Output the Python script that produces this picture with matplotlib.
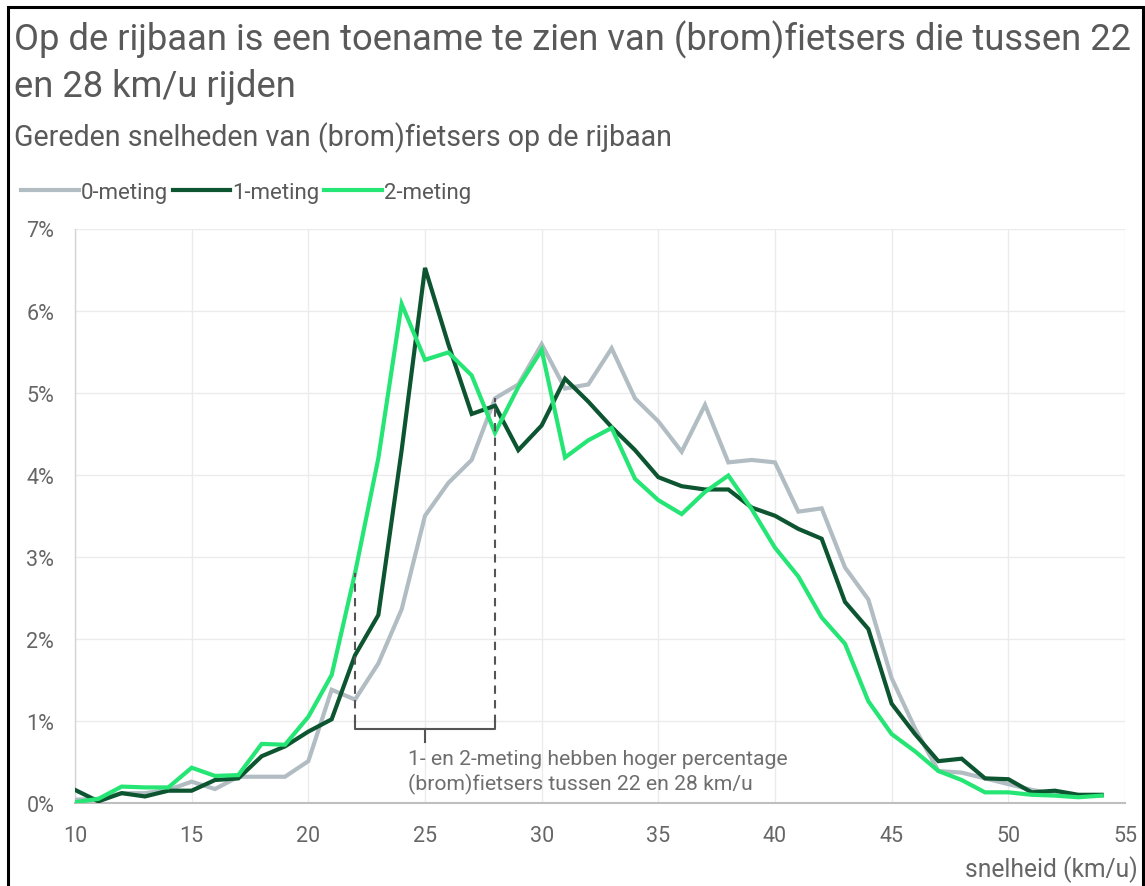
import matplotlib
matplotlib.use('Agg')
import matplotlib.pyplot as plt
from matplotlib.ticker import FuncFormatter, FixedLocator
from matplotlib.patches import Rectangle

# ---------------- data ----------------
speeds = list(range(10, 55))
meting0 = [0.04, 0.05, 0.12, 0.12, 0.16, 0.26, 0.17, 0.32, 0.32, 0.32, 0.51,
           1.38, 1.26, 1.70, 2.36, 3.50, 3.90, 4.18, 4.93, 5.10, 5.59,
           5.05, 5.10, 5.54, 4.93, 4.65, 4.28, 4.85, 4.15, 4.18, 4.15,
           3.55, 3.59, 2.87, 2.48, 1.52, 0.91, 0.39, 0.37, 0.30, 0.23,
           0.16, 0.11, 0.09, 0.09]
meting1 = [0.16, 0.02, 0.12, 0.08, 0.15, 0.15, 0.28, 0.30, 0.57, 0.69, 0.87,
           1.02, 1.80, 2.29, 4.30, 6.52, 5.59, 4.74, 4.84, 4.30, 4.60,
           5.17, 4.89, 4.58, 4.30, 3.97, 3.86, 3.82, 3.82, 3.60, 3.50,
           3.34, 3.22, 2.45, 2.12, 1.21, 0.84, 0.51, 0.54, 0.30, 0.29,
           0.13, 0.15, 0.10, 0.10]
meting2 = [0.01, 0.05, 0.20, 0.19, 0.19, 0.43, 0.33, 0.34, 0.72, 0.71, 1.05,
           1.56, 2.80, 4.20, 6.08, 5.40, 5.49, 5.21, 4.51, 5.07, 5.52,
           4.21, 4.42, 4.57, 3.95, 3.69, 3.52, 3.79, 3.99, 3.58, 3.11,
           2.76, 2.26, 1.94, 1.24, 0.84, 0.63, 0.39, 0.28, 0.13, 0.13,
           0.10, 0.09, 0.07, 0.09]
series_labels = ['0-meting', '1-meting', '2-meting']
x_ticks = [10, 15, 20, 25, 30, 35, 40, 45, 50, 55]
y_ticks = [0, 1, 2, 3, 4, 5, 6, 7]
range_lo, range_hi = 22, 28
bracket_level = 0.90
title_line1 = 'Op de rijbaan is een toename te zien van (brom)fietsers die tussen 22'
title_line2 = 'en 28 km/u rijden'
subtitle = 'Gereden snelheden van (brom)fietsers op de rijbaan'
note_line1 = '1- en 2-meting hebben hoger percentage'
note_line2 = '(brom)fietsers tussen 22 en 28 km/u'
x_label = 'snelheid (km/u)'

# ---------------- style ----------------
W, H = 1145, 887
plt.rcParams['font.family'] = ['Roboto', 'DejaVu Sans']
TXT = '#595959'
TICK = '#666666'
colors = ['#b2bdc3', '#0c5530', '#25e574']

fig = plt.figure(figsize=(W / 100, H / 100), dpi=100)
fig.patch.set_facecolor('white')
renderer = fig.canvas.get_renderer()


def fy(y):
    return 1 - y / H


def fit(t, target):
    w = t.get_window_extent(renderer).width
    t.set_fontsize(t.get_fontsize() * target / w)


# border
fig.add_artist(Rectangle((8 / W, -0.05), (1143 - 8) / W, fy(8) + 0.05,
                         transform=fig.transFigure, fill=False,
                         edgecolor='black', linewidth=2.2))

# titles
t1 = fig.text(14 / W, fy(50), title_line1, fontsize=22, color=TXT, va='baseline')
fit(t1, 1116)
t2 = fig.text(14 / W, fy(97), title_line2, fontsize=t1.get_fontsize(), color=TXT, va='baseline')
t3 = fig.text(14 / W, fy(146), subtitle, fontsize=17, color=TXT, va='baseline')
fit(t3, 661)

# axes
ax = fig.add_axes([75 / W, fy(804), 1050 / W, (804 - 229.5) / H])
ax.set_xlim(10, 55)
ax.set_ylim(0, 7)
ax.xaxis.set_major_locator(FixedLocator(x_ticks))
ax.yaxis.set_major_locator(FixedLocator(y_ticks))
ax.yaxis.set_major_formatter(FuncFormatter(lambda v, p: f'{v:.0f}%'))
ax.grid(True, color='#ebebeb', linewidth=1.0)
ax.set_axisbelow(True)
for s in ['top', 'right']:
    ax.spines[s].set_visible(False)
ax.spines['left'].set_color('#d4d4d4')
ax.spines['left'].set_linewidth(1.0)
ax.spines['bottom'].set_color('#bfbfbf')
ax.spines['bottom'].set_linewidth(1.5)
ax.tick_params(length=0, labelsize=15.5, labelcolor=TICK)
ax.tick_params(axis='y', pad=15)
ax.tick_params(axis='x', pad=16)

lines = []
for vals, c, lab in zip([meting0, meting1, meting2], colors, series_labels):
    ln, = ax.plot(speeds, vals, color=c, linewidth=3.0, label=lab,
                  solid_joinstyle='miter', zorder=3)
    lines.append(ln)

# annotation: dashed verticals + bracket
all_series = [meting0, meting1, meting2]
top_lo = max(s[speeds.index(range_lo)] for s in all_series)
top_hi = max(s[speeds.index(range_hi)] for s in all_series)
dash = dict(color='#555555', linewidth=1.5, linestyle=(0, (4, 3)), zorder=4)
ax.plot([range_lo, range_lo], [bracket_level + 0.08, top_lo], **dash)
ax.plot([range_hi, range_hi], [bracket_level + 0.08, top_hi], **dash)
mid = (range_lo + range_hi) / 2
ax.plot([range_lo, range_lo, range_hi, range_hi],
        [bracket_level + 0.1, bracket_level, bracket_level, bracket_level + 0.1],
        color='#555555', linewidth=1.5, zorder=4)
ax.plot([mid, mid], [bracket_level, bracket_level - 0.16],
        color='#555555', linewidth=1.5, zorder=4)
nx = 10 + (408 - 75) / (1050 / 45)
n1 = ax.text(nx, (804 - 765) / 82.1, note_line1, fontsize=12, color='#6e6e6e', va='baseline')
fit(n1, 378)
n2 = ax.text(nx, (804 - 790) / 82.1, note_line2, fontsize=n1.get_fontsize(), color='#6e6e6e', va='baseline')

# legend
leg = ax.legend(handles=lines, loc='center left', ncol=3, frameon=False,
                bbox_to_anchor=(21 / W, fy(193)), bbox_transform=fig.transFigure,
                fontsize=16, handlelength=2.6, handletextpad=0.1,
                columnspacing=0.2, borderpad=0, borderaxespad=0)
for t in leg.get_texts():
    t.set_color(TXT)

# x label
xl = fig.text(1138 / W, fy(877), x_label, fontsize=14, color=TICK, ha='right', va='baseline')
fit(xl, 174)

fig.savefig('out.png', dpi=100, facecolor='white')
